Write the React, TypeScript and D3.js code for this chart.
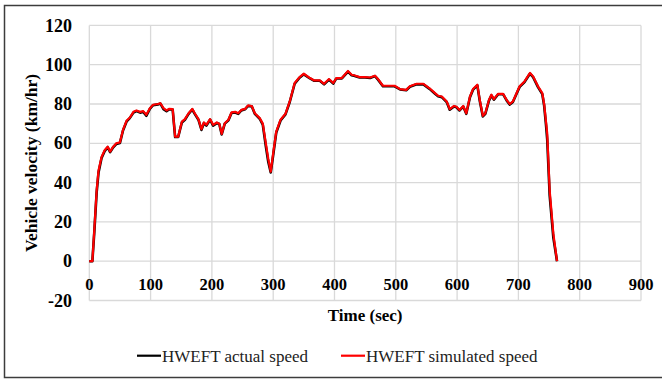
import { useEffect, useRef } from 'react'
import * as d3 from 'd3'

const timeSec = [
  0, 5, 8, 12, 15, 20, 25, 30, 34, 39, 44, 50, 55, 61, 66, 72, 77, 83, 88, 93, 99, 104, 112, 116,
  121, 126, 130, 136, 140, 145, 151, 156, 162, 168, 172, 178, 183, 187, 191, 197, 202, 208, 212,
  216, 221, 227, 232, 238, 243, 248, 254, 259, 265, 270, 278, 283, 288, 292, 296, 300, 305, 312,
  320, 327, 335, 343, 350, 360, 367, 376, 383, 391, 398, 403, 412, 422, 428, 433, 441, 450, 458,
  466, 471, 479, 490, 498, 507, 517, 523, 534, 545, 555, 564, 569, 575, 583, 588, 595, 599, 604,
  610, 615, 621, 626, 633, 637, 642, 646, 652, 656, 660, 667, 675, 681, 686, 691, 697, 702, 710,
  719, 724, 732, 739, 742, 745, 747, 751, 757, 763,
]

const actualSpeed = [
  0, 0, 14, 35, 45, 52.5, 56, 58, 55.5, 58, 59.6, 60.2, 66.5, 71.2, 72.8, 75.6, 76.4, 75.6, 76,
  74, 77.6, 79.4, 79.8, 80.2, 77.4, 76.3, 77.2, 77.2, 63.2, 63.2, 70.6, 72, 75, 77.2, 75, 72,
  66.8, 70.3, 69, 72, 69, 70.3, 69.8, 64.5, 70, 71.7, 75.4, 75.7, 75, 76.7, 77.3, 79, 78.8, 75,
  72.5, 69.5, 58.5, 50.5, 45.2, 54, 65.5, 71.6, 74.7, 81, 90.3, 93.4, 95.1, 93, 91.8, 91.8, 90,
  92.4, 90.4, 93, 93, 96.5, 94.6, 94.3, 93.5, 93.5, 93.2, 94.2, 92.4, 89, 89, 89, 87.4, 87, 88.8,
  90, 90, 87.7, 85.2, 83.9, 83.5, 81, 77.1, 78.7, 78.3, 76.7, 78.7, 75, 83.4, 87.3, 89.5, 81.5,
  73.7, 75, 81.7, 84.4, 82.2, 85, 85, 81.7, 79.7, 81, 85.2, 88.7, 91.2, 95.5, 93.7, 88.6, 85,
  79.2, 69.5, 62, 33.5, 12, 0,
]

const simulatedSpeed = [
  0, 0, 15, 36, 46, 53, 56.5, 58.3, 55.8, 58.3, 60, 60.5, 66.8, 71.6, 73, 76, 76.7, 76, 76.4,
  74.5, 77.9, 79.6, 80, 80.4, 77.9, 76.7, 77.5, 77.4, 63.4, 63.4, 71, 72.3, 75.3, 77.5, 75.3,
  72.3, 67.2, 70.6, 69.4, 72.3, 69.4, 70.6, 70, 64.8, 70.2, 72, 75.7, 76, 75.3, 77, 77.5, 79.3,
  79, 75.3, 72.8, 70, 60, 52, 45.6, 55, 66, 72, 75, 81.3, 90.7, 93.7, 95.4, 93.2, 92, 92, 90.3,
  92.7, 90.7, 93.2, 93.2, 96.8, 94.9, 94.5, 93.7, 93.7, 93.5, 94.4, 92.7, 89.3, 89.3, 89.3, 87.6,
  87.2, 89, 90.3, 90.3, 88, 85.5, 84.2, 83.8, 81.3, 77.4, 79, 78.6, 77, 79, 75.3, 83.8, 87.6,
  89.8, 82, 74, 75.3, 82, 84.7, 82.5, 85.2, 85.2, 82, 80, 81.3, 85.5, 89, 91.5, 95.8, 94, 89,
  85.5, 80, 71, 65, 36, 14, 0,
]

const xTicks = [0, 100, 200, 300, 400, 500, 600, 700, 800, 900]
const yTicks = [-20, 0, 20, 40, 60, 80, 100, 120]

const seriesNames = ['HWEFT actual speed', 'HWEFT simulated speed']
const seriesColors = ['#000000', '#ff0000']

export default function App() {
  const svgRef = useRef<SVGSVGElement>(null)

  useEffect(() => {
    if (!svgRef.current) return
    const svg = d3.select(svgRef.current)
    svg.selectAll('*').remove()

    const serif = '"Liberation Serif", "Times New Roman", serif'

    // outer frame
    svg.append('rect')
      .attr('x', 4.5).attr('y', 5.5)
      .attr('width', 660).attr('height', 372)
      .style('fill', 'white')
      .style('stroke', '#3c3c3c')
      .style('stroke-width', 1.5)

    const x = d3.scaleLinear().domain([0, 900]).range([89.3, 641])
    const y = d3.scaleLinear().domain([-20, 120]).range([300.5, 25.4])

    // grid
    const grid = svg.append('g')
    grid.selectAll('line.h')
      .data(yTicks)
      .enter().append('line')
      .attr('x1', x(0)).attr('x2', x(900))
      .attr('y1', d => y(d)).attr('y2', d => y(d))
      .style('stroke', '#d9d9d9').style('stroke-width', 1.3)
    grid.selectAll('line.v')
      .data(xTicks)
      .enter().append('line')
      .attr('x1', d => x(d)).attr('x2', d => x(d))
      .attr('y1', y(-20)).attr('y2', y(120))
      .style('stroke', '#d9d9d9').style('stroke-width', 1.3)

    // tick labels
    svg.append('g').selectAll('text')
      .data(yTicks)
      .enter().append('text')
      .attr('x', 72)
      .attr('y', d => y(d))
      .attr('dy', '0.34em')
      .style('text-anchor', 'end')
      .style('font-family', serif)
      .style('font-weight', 'bold')
      .style('font-size', '18px')
      .style('fill', '#000')
      .text(d => d)

    svg.append('g').selectAll('text')
      .data(xTicks)
      .enter().append('text')
      .attr('x', d => x(d))
      .attr('y', 289.5)
      .style('text-anchor', 'middle')
      .style('font-family', serif)
      .style('font-weight', 'bold')
      .style('font-size', '16.5px')
      .style('fill', '#000')
      .text(d => d)

    // axis titles
    svg.append('text')
      .attr('x', (x(0) + x(900)) / 2)
      .attr('y', 320.5)
      .style('text-anchor', 'middle')
      .style('font-family', serif)
      .style('font-weight', 'bold')
      .style('font-size', '17px')
      .text('Time (sec)')

    svg.append('text')
      .attr('transform', `translate(31,${(y(-20) + y(120)) / 2}) rotate(-90)`)
      .attr('dy', '0.34em')
      .style('text-anchor', 'middle')
      .style('font-family', serif)
      .style('font-weight', 'bold')
      .style('font-size', '17.5px')
      .text('Vehicle velocity (km/hr)')

    // lines
    const line = d3.line<number>()
      .x((_, i) => x(timeSec[i]))
      .y(d => y(d))

    ;[actualSpeed, simulatedSpeed].forEach((vals, k) => {
      svg.append('path')
        .datum(vals)
        .attr('d', line)
        .style('fill', 'none')
        .style('stroke', seriesColors[k])
        .style('stroke-width', k === 0 ? 2.6 : 2.2)
        .style('stroke-linejoin', 'round')
    })

    // legend
    const legendX = [137, 341]
    seriesNames.forEach((name, k) => {
      svg.append('line')
        .attr('x1', legendX[k]).attr('x2', legendX[k] + 24)
        .attr('y1', 355.7).attr('y2', 355.7)
        .style('stroke', seriesColors[k])
        .style('stroke-width', 2.2)
      svg.append('text')
        .attr('x', legendX[k] + 25)
        .attr('y', 361.5)
        .style('font-family', serif)
        .style('font-size', '17px')
        .style('fill', '#222')
        .text(name)
    })
  }, [])

  return (
    <svg
      ref={svgRef}
      width={662}
      height={379}
      style={{ position: 'absolute', left: 0, top: 0, background: 'white' }}
    />
  )
}
